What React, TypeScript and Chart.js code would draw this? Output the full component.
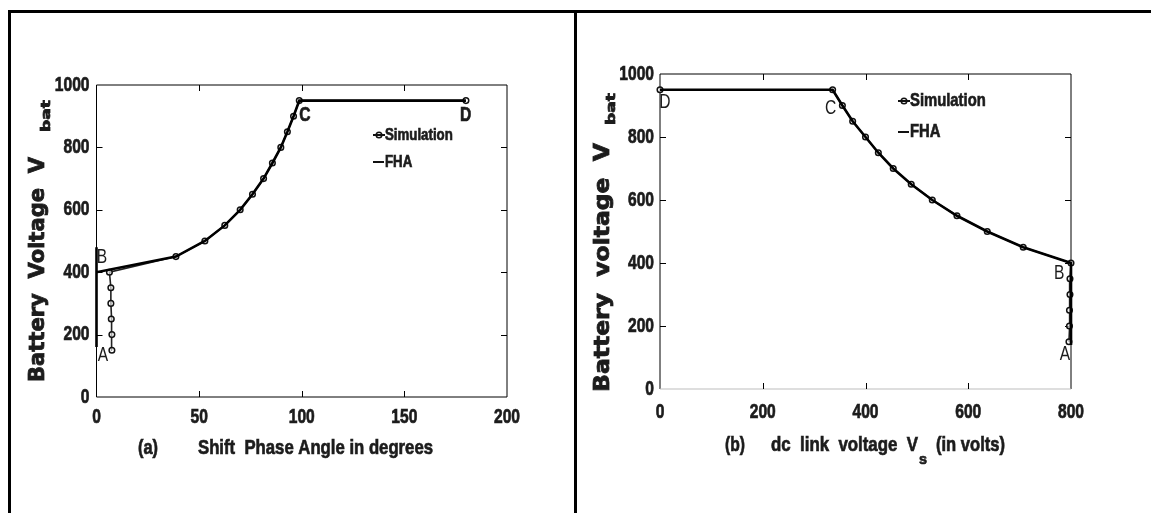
import React, { useEffect, useRef } from "react";
import { Chart, registerables } from "chart.js";
Chart.register(...registerables);

const SANS = "'Liberation Sans', Arial, sans-serif";
const WIDE = "'DejaVu Sans', Verdana, sans-serif";
const INK = "#1c1c1c";
const NARROW_SCALE = 0.78;

// ---------- Panel (a): Shift phase angle ----------
const simAngle = [7.5, 7.5, 7.2, 7, 7, 6.3, 38.7, 52.8, 62.5, 70, 76, 81.4, 85.7, 89.8, 93, 96, 98.8, 180];
const simVbatA = [150, 200, 250, 300, 350, 400, 450, 500, 550, 600, 650, 700, 750, 800, 850, 900, 950, 950];
const fhaAngle = [0, 0, 0, 38.7, 52.8, 62.5, 70, 76, 81.4, 85.7, 89.8, 93, 96, 98.8, 180];
const fhaVbatA = [160, 480, 400, 450, 500, 550, 600, 650, 700, 750, 800, 850, 900, 950, 950];
const xTicksA = [0, 50, 100, 150, 200];
const pointNamesA = ["A", "B", "C", "D"];
const pointNameXA = [3.2, 2.7, 101.5, 179.8];
const pointNameYA = [134, 448, 902, 902];
const pointNameBoldA = [false, false, true, true];

// ---------- Panel (b): dc link voltage ----------
const simDc = [0, 336, 355, 375, 400, 425, 454, 489, 530, 578, 637, 707, 800, 798, 798, 797, 797, 796];
const simVbatB = [950, 950, 900, 850, 800, 750, 700, 650, 600, 550, 500, 450, 400, 350, 300, 250, 200, 150];
const fhaDc = [0, 336, 355, 375, 400, 425, 454, 489, 530, 578, 637, 707, 800, 800];
const fhaVbatB = [950, 950, 900, 850, 800, 750, 700, 650, 600, 550, 500, 450, 400, 140];
const xTicksB = [0, 200, 400, 600, 800];
const pointNamesB = ["A", "B", "C", "D"];
const pointNameXB = [788, 777, 332, 9.7];
const pointNameYB = [108, 368, 892, 908];

const yTicks = [0, 200, 400, 600, 800, 1000];
const legendNames = ["Simulation", "FHA"];

function toXY(xs: number[], ys: number[]) {
  return xs.map((x, i) => ({ x, y: ys[i] }));
}

function narrow(
  ctx: CanvasRenderingContext2D,
  text: string,
  x: number,
  y: number,
  align: CanvasTextAlign,
  size: number,
  bold: boolean
) {
  ctx.save();
  ctx.font = `${bold ? "bold " : ""}${size}px ${SANS}`;
  ctx.translate(x, y);
  ctx.scale(NARROW_SCALE, 1);
  ctx.textAlign = align;
  ctx.textBaseline = "middle";
  ctx.fillStyle = INK;
  ctx.fillText(text, 0, 0);
  if (bold) {
    ctx.strokeStyle = INK;
    ctx.lineWidth = 0.7;
    ctx.strokeText(text, 0, 0);
  }
  ctx.restore();
}

function drawFit(ctx: CanvasRenderingContext2D, text: string, font: string, x0: number, cy: number, width: number) {
  ctx.save();
  ctx.font = font;
  const w = ctx.measureText(text).width;
  ctx.translate(x0, cy);
  ctx.scale(width / w, 1);
  ctx.textAlign = "left";
  ctx.textBaseline = "middle";
  ctx.fillStyle = INK;
  ctx.fillText(text, 0, 0);
  ctx.strokeStyle = INK;
  ctx.lineWidth = 0.7;
  ctx.strokeText(text, 0, 0);
  ctx.restore();
}

function drawRot(ctx: CanvasRenderingContext2D, text: string, font: string, cx: number, yBottom: number, yTop: number) {
  ctx.save();
  ctx.font = font;
  const w = ctx.measureText(text).width;
  ctx.translate(cx, yBottom);
  ctx.rotate(-Math.PI / 2);
  ctx.scale((yBottom - yTop) / w, 1);
  ctx.textAlign = "left";
  ctx.textBaseline = "middle";
  ctx.fillStyle = INK;
  ctx.fillText(text, 0, 0);
  ctx.strokeStyle = INK;
  ctx.lineWidth = 0.8;
  ctx.strokeText(text, 0, 0);
  ctx.restore();
}

type PanelOpts = {
  xs: { sim: number[]; simY: number[]; fha: number[]; fhaY: number[] };
  xMax: number;
  xTicks: number[];
  area: { left: number; top: number; right: number; bottom: number };
  width: number;
  height: number;
  yLabelGap: number;
  xLabelY: number;
  bottomColor: string;
  names: string[];
  nameX: number[];
  nameY: number[];
  nameBold: boolean[];
  legend: { x: number; y1: number; y2: number; size: number };
  decorate: (ctx: CanvasRenderingContext2D) => void;
};

function makeChart(canvas: HTMLCanvasElement, p: PanelOpts) {
  const frame = {
    id: "frame",
    beforeDatasetsDraw(chart: any) {
      const { ctx, chartArea: a, scales } = chart;
      ctx.save();
      ctx.lineWidth = 1;
      ctx.strokeStyle = "#000";
      ctx.beginPath();
      ctx.moveTo(a.left, a.bottom);
      ctx.lineTo(a.left, a.top);
      ctx.lineTo(a.right, a.top);
      ctx.lineTo(a.right, a.bottom);
      ctx.stroke();
      ctx.strokeStyle = p.bottomColor;
      ctx.beginPath();
      ctx.moveTo(a.left, a.bottom);
      ctx.lineTo(a.right, a.bottom);
      ctx.stroke();
      ctx.strokeStyle = "#000";
      const tl = 6;
      ctx.beginPath();
      p.xTicks.slice(1, -1).forEach((v) => {
        const px = Math.round(scales.x.getPixelForValue(v)) + 0.5;
        ctx.moveTo(px, a.bottom);
        ctx.lineTo(px, a.bottom - tl);
        ctx.moveTo(px, a.top);
        ctx.lineTo(px, a.top + tl);
      });
      yTicks.slice(1, -1).forEach((v) => {
        const py = Math.round(scales.y.getPixelForValue(v)) + 0.5;
        ctx.moveTo(a.left, py);
        ctx.lineTo(a.left + tl, py);
        ctx.moveTo(a.right, py);
        ctx.lineTo(a.right - tl, py);
      });
      ctx.stroke();
      ctx.restore();
      // tick labels (narrow bold)
      p.xTicks.forEach((v) => narrow(ctx, String(v), scales.x.getPixelForValue(v), p.xLabelY, "center", 20, true));
      yTicks.forEach((v) => narrow(ctx, String(v), a.left - p.yLabelGap, scales.y.getPixelForValue(v), "right", 20, true));
    },
    afterDraw(chart: any) {
      const { ctx, scales } = chart;
      p.names.forEach((n, i) => {
        narrow(ctx, n, scales.x.getPixelForValue(p.nameX[i]), scales.y.getPixelForValue(p.nameY[i]), "center", 20, p.nameBold[i]);
      });
      // legend
      const L = p.legend;
      ctx.save();
      ctx.strokeStyle = "#111";
      ctx.lineWidth = 2;
      ctx.beginPath();
      ctx.moveTo(L.x, L.y1);
      ctx.lineTo(L.x + 12, L.y1);
      ctx.moveTo(L.x, L.y2);
      ctx.lineTo(L.x + 11, L.y2);
      ctx.stroke();
      ctx.lineWidth = 1.5;
      ctx.beginPath();
      ctx.arc(L.x + 6, L.y1, 2.8, 0, Math.PI * 2);
      ctx.stroke();
      ctx.restore();
      narrow(ctx, legendNames[0], L.x + 12, L.y1, "left", L.size, true);
      narrow(ctx, legendNames[1], L.x + 12, L.y2, "left", L.size, true);
      p.decorate(ctx);
    },
  };

  return new Chart(canvas, {
    type: "line",
    data: {
      datasets: [
        {
          label: legendNames[1],
          data: toXY(p.xs.fha, p.xs.fhaY),
          borderColor: "#000",
          borderWidth: 2.6,
          pointRadius: 0,
          tension: 0,
          clip: false as any,
        },
        {
          label: legendNames[0],
          data: toXY(p.xs.sim, p.xs.simY),
          borderColor: "#222",
          borderWidth: 1.6,
          pointRadius: 2.8,
          pointBorderWidth: 1.5,
          pointBorderColor: "#111",
          pointBackgroundColor: "rgba(255,255,255,0.6)",
          tension: 0,
          clip: false as any,
        },
      ],
    },
    options: {
      animation: false,
      responsive: false,
      maintainAspectRatio: false,
      layout: { padding: { top: p.area.top, right: p.width - p.area.right, left: 0, bottom: 0 } },
      plugins: { legend: { display: false }, tooltip: { enabled: false } },
      scales: {
        x: {
          type: "linear",
          min: 0,
          max: p.xMax,
          afterBuildTicks: (s: any) => {
            s.ticks = p.xTicks.map((v) => ({ value: v }));
          },
          afterFit: (s: any) => {
            s.height = p.height - p.area.bottom;
          },
          grid: { display: false, drawTicks: false },
          border: { display: false },
          ticks: { display: false },
        },
        y: {
          type: "linear",
          min: 0,
          max: 1000,
          afterBuildTicks: (s: any) => {
            s.ticks = yTicks.map((v) => ({ value: v }));
          },
          afterFit: (s: any) => {
            s.width = p.area.left;
          },
          grid: { display: false, drawTicks: false },
          border: { display: false },
          ticks: { display: false },
        },
      },
    },
    plugins: [frame],
  } as any);
}

export default function App() {
  const refA = useRef<HTMLCanvasElement>(null);
  const refB = useRef<HTMLCanvasElement>(null);

  useEffect(() => {
    document.body.style.margin = "0";
    const a = makeChart(refA.current!, {
      xs: { sim: simAngle, simY: simVbatA, fha: fhaAngle, fhaY: fhaVbatA },
      xMax: 200,
      xTicks: xTicksA,
      area: { left: 96.5, top: 85, right: 507, bottom: 397 },
      width: 575,
      height: 513,
      yLabelGap: 7,
      xLabelY: 417,
      bottomColor: "#000",
      names: pointNamesA,
      nameX: pointNameXA,
      nameY: pointNameYA,
      nameBold: pointNameBoldA,
      legend: { x: 373, y1: 135, y2: 162, size: 17 },
      decorate: (ctx) => {
        drawRot(ctx, "Battery  Voltage  V", `bold 21px ${WIDE}`, 39, 382, 157);
        drawRot(ctx, "bat", `bold 13px ${WIDE}`, 46.5, 132, 100);
        drawFit(ctx, "(a)", `bold 21px ${SANS}`, 138, 448, 20);
        drawFit(ctx, "Shift  Phase Angle in degrees", `bold 21px ${SANS}`, 198, 448, 235);
      },
    });
    const b = makeChart(refB.current!, {
      xs: { sim: simDc, simY: simVbatB, fha: fhaDc, fhaY: fhaVbatB },
      xMax: 800,
      xTicks: xTicksB,
      area: { left: 83, top: 74, right: 494, bottom: 389 },
      width: 574,
      height: 513,
      yLabelGap: 6,
      xLabelY: 412,
      bottomColor: "#bdbdbd",
      names: pointNamesB,
      nameX: pointNameXB,
      nameY: pointNameYB,
      nameBold: [false, false, false, false],
      legend: { x: 321, y1: 101, y2: 132, size: 19 },
      decorate: (ctx) => {
        drawRot(ctx, "Battery  voltage  V", `bold 21px ${WIDE}`, 27, 392, 143);
        drawRot(ctx, "bat", `bold 13px ${WIDE}`, 35, 125, 93);
        drawFit(ctx, "(b)", `bold 21px ${SANS}`, 148, 445, 20);
        drawFit(ctx, "dc  link  voltage  V", `bold 21px ${SANS}`, 194, 445, 147);
        drawFit(ctx, "s", `bold 15px ${SANS}`, 342, 460, 8);
        drawFit(ctx, "(in volts)", `bold 21px ${SANS}`, 359, 445, 69);
      },
    });
    return () => {
      a.destroy();
      b.destroy();
    };
  }, []);

  return (
    <div style={{ position: "relative", width: 1151, height: 513, background: "#fff", overflow: "hidden" }}>
      <canvas ref={refA} width={575} height={513} style={{ position: "absolute", left: 0, top: 0, width: 575, height: 513 }} />
      <canvas ref={refB} width={574} height={513} style={{ position: "absolute", left: 577, top: 0, width: 574, height: 513 }} />
      <div style={{ position: "absolute", left: 8, top: 10, width: 1143, height: 3, background: "#000" }} />
      <div style={{ position: "absolute", left: 8, top: 10, width: 3, height: 503, background: "#000" }} />
      <div style={{ position: "absolute", left: 574, top: 10, width: 3, height: 503, background: "#000" }} />
    </div>
  );
}
